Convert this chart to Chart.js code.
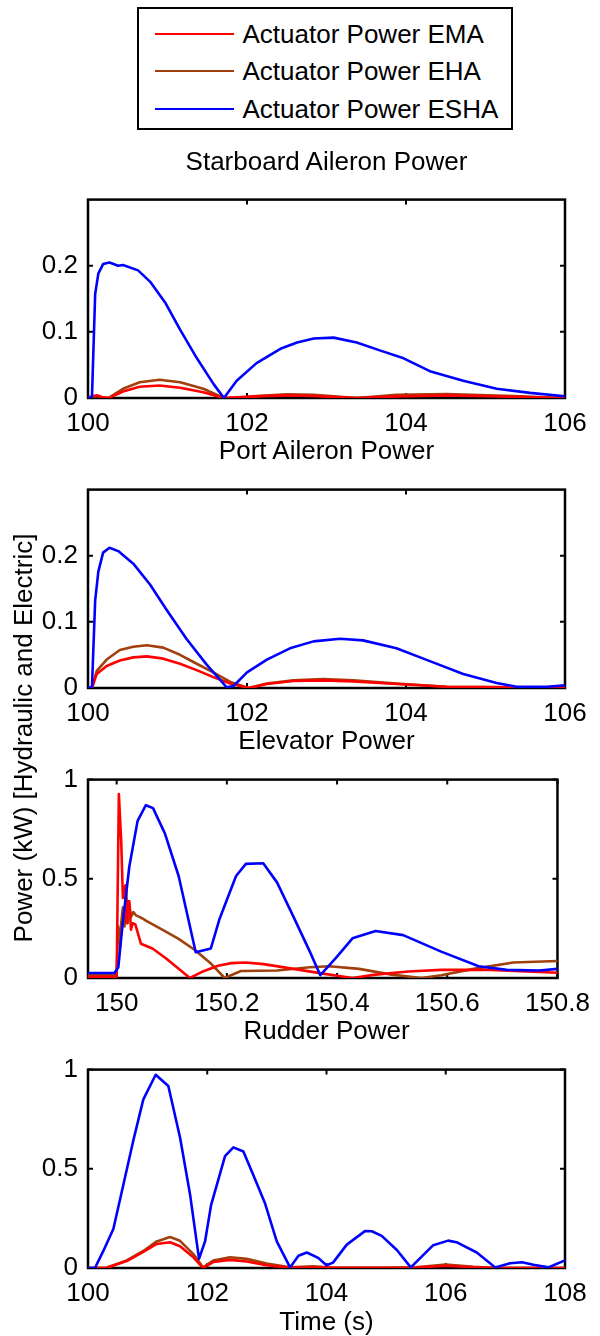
<!DOCTYPE html>
<html>
<head>
<meta charset="utf-8">
<title>Actuator Power</title>
<script src="https://cdn.jsdelivr.net/npm/chart.js@4.4.1/dist/chart.umd.min.js"></script>
<style>
  html, body { margin: 0; padding: 0; background: #fff; }
  body { width: 600px; height: 1336px; position: relative; overflow: hidden;
         font-family: "Liberation Sans", Arial, Helvetica, sans-serif; color: #000; }
  canvas { position: absolute; left: 0; z-index: 1; }
  .txt { position: absolute; font-size: 26px; line-height: 26px; white-space: nowrap; z-index: 2; }
  .title { left: 26.5px; width: 600px; text-align: center; }
  #legend { position: absolute; left: 137px; top: 7px; width: 376px; height: 123px;
            box-sizing: border-box; border: 2.5px solid #000; background: #fff; z-index: 3; }
  .row { position: absolute; left: 0; height: 26px; }
  .row .swatch { position: absolute; left: 15.5px; top: 11.5px; width: 79px; height: 2.5px; }
  .row .lab { position: absolute; left: 103.5px; top: 0; font-size: 26px; line-height: 26px; white-space: nowrap; }
  #ylabel { left: -227px; top: 725px; width: 500px; text-align: center; transform: rotate(-90deg); }
</style>
</head>
<body>

<div id="legend">
  <div class="row" style="top:12px"><div class="swatch" style="background:#ff0000"></div><div class="lab">Actuator Power EMA</div></div>
  <div class="row" style="top:49px"><div class="swatch" style="background:#a0410d"></div><div class="lab">Actuator Power EHA</div></div>
  <div class="row" style="top:87px"><div class="swatch" style="background:#0000ff"></div><div class="lab">Actuator Power ESHA</div></div>
</div>

<div class="txt title" style="top:148px">Starboard Aileron Power</div>
<div class="txt title" style="top:437px">Port Aileron Power</div>
<div class="txt title" style="top:727px">Elevator Power</div>
<div class="txt title" style="top:1017px">Rudder Power</div>
<div class="txt title" style="top:1308px">Time (s)</div>
<div class="txt" id="ylabel">Power (kW) [Hydraulic and Electric]</div>

<script>
// ---- Starboard aileron (time in s, power in kW) ----
const sbEshaT = [100, 100.05, 100.09, 100.13, 100.19, 100.27, 100.38, 100.44, 100.63, 100.78, 100.97, 101.16, 101.37, 101.58, 101.71, 101.87, 102.12, 102.42, 102.63, 102.84, 103.09, 103.38, 103.67, 103.97, 104.3, 104.72, 105.14, 105.56, 106];
const sbEshaP = [0, 0.002, 0.157, 0.188, 0.2025, 0.205, 0.2, 0.201, 0.193, 0.176, 0.1445, 0.103, 0.06, 0.021, 0, 0.026, 0.0527, 0.0744, 0.084, 0.0899, 0.0913, 0.084, 0.072, 0.06, 0.0406, 0.026, 0.014, 0.0077, 0.0027];
const sbTime   = [100, 100.06, 100.12, 100.18, 100.26, 100.35, 100.44, 100.65, 100.9, 101.16, 101.45, 101.71, 101.87, 102.12, 102.5, 102.84, 103.38, 103.88, 104.51, 105.35, 106];
const sbEhaP   = [0, 0.002, 0.003, 0.001, 0, 0.007, 0.014, 0.0237, 0.0275, 0.0237, 0.014, 0, 0, 0.003, 0.0056, 0.0048, 0, 0.0048, 0.006, 0.003, 0];
const sbEmaP   = [0, 0.003, 0.004, 0.001, 0, 0.005, 0.0097, 0.017, 0.019, 0.0155, 0.0087, 0, 0.001, 0.0024, 0.004, 0.003, 0, 0.0024, 0.004, 0.002, 0];

// ---- Port aileron ----
const paEshaT = [100, 100.05, 100.09, 100.13, 100.19, 100.27, 100.38, 100.57, 100.78, 100.99, 101.24, 101.49, 101.745, 101.83, 102.0, 102.25, 102.54, 102.835, 103.17, 103.46, 103.88, 104.3, 104.72, 105.14, 105.39, 105.77, 106];
const paEshaP = [0, 0.002, 0.132, 0.176, 0.2047, 0.212, 0.207, 0.188, 0.1565, 0.118, 0.074, 0.0357, 0.001, 0.003, 0.0237, 0.043, 0.06, 0.0705, 0.0744, 0.072, 0.06, 0.0406, 0.0213, 0.0077, 0.002, 0.002, 0.004];
const paTime   = [100, 100.05, 100.11, 100.235, 100.4, 100.57, 100.74, 100.947, 101.157, 101.367, 101.576, 101.79, 102.02, 102.25, 102.58, 102.96, 103.34, 103.88, 104.51, 105.35, 106];
const paEhaP   = [0, 0, 0.026, 0.043, 0.0575, 0.0623, 0.0647, 0.061, 0.0502, 0.0367, 0.0237, 0.0092, 0, 0.0068, 0.0116, 0.0135, 0.0116, 0.0068, 0.002, 0.001, 0.001];
const paEmaP   = [0, 0, 0.0213, 0.0333, 0.0415, 0.0463, 0.0478, 0.0444, 0.0367, 0.027, 0.0164, 0.0068, 0, 0.006, 0.0105, 0.0116, 0.010, 0.006, 0.002, 0.001, 0.001];

// ---- Elevator ----
const elEshaT = [149.948, 149.996, 150.003, 150.011, 150.023, 150.038, 150.053, 150.066, 150.0875, 150.1125, 150.1435, 150.171, 150.187, 150.2167, 150.2345, 150.266, 150.291, 150.321, 150.3506, 150.3696, 150.398, 150.428, 150.47, 150.52, 150.589, 150.657, 150.708, 150.767, 150.8];
const elEshaP = [0.025, 0.025, 0.054, 0.276, 0.562, 0.792, 0.871, 0.856, 0.729, 0.514, 0.13, 0.149, 0.3, 0.514, 0.575, 0.578, 0.482, 0.308, 0.133, 0.014, 0.101, 0.2, 0.237, 0.216, 0.133, 0.059, 0.041, 0.038, 0.046];
const elEhaT  = [149.948, 150.0, 150.0027, 150.0068, 150.0083, 150.0113, 150.0143, 150.017, 150.02, 150.023, 150.026, 150.0304, 150.035, 150.041, 150.047, 150.053, 150.0827, 150.1125, 150.142, 150.172, 150.196, 150.2256, 150.291, 150.3506, 150.386, 150.44, 150.499, 150.553, 150.589, 150.648, 150.72, 150.8];
const elEhaP  = [0.014, 0.014, 0.26, 0.165, 0.276, 0.356, 0.26, 0.467, 0.276, 0.371, 0.308, 0.332, 0.316, 0.308, 0.3, 0.289, 0.244, 0.197, 0.141, 0.07, 0, 0.035, 0.038, 0.054, 0.059, 0.046, 0.017, 0, 0.014, 0.046, 0.078, 0.086];
const elEmaT  = [149.948, 150.0, 150.004, 150.0083, 150.0113, 150.016, 150.018, 150.021, 150.023, 150.026, 150.029, 150.0339, 150.044, 150.065, 150.0887, 150.1125, 150.133, 150.154, 150.184, 150.208, 150.2345, 150.267, 150.321, 150.3745, 150.428, 150.47, 150.529, 150.589, 150.678, 150.8];
const elEmaP  = [0.006, 0.006, 0.927, 0.689, 0.403, 0.467, 0.276, 0.387, 0.387, 0.244, 0.276, 0.27, 0.173, 0.149, 0.101, 0.046, 0, 0.03, 0.062, 0.075, 0.078, 0.07, 0.046, 0.022, 0, 0.017, 0.033, 0.041, 0.041, 0.0267];

// ---- Rudder ----
const ruEshaT = [100, 100.117, 100.257, 100.425, 100.593, 100.76, 100.928, 101.135, 101.347, 101.543, 101.711, 101.862, 101.963, 102.064, 102.298, 102.438, 102.606, 102.774, 102.97, 103.166, 103.389, 103.53, 103.67, 103.86, 104.0, 104.11, 104.34, 104.645, 104.76, 104.926, 105.18, 105.414, 105.79, 106.04, 106.18, 106.52, 106.83, 107.08, 107.28, 107.47, 107.72, 108];
const ruEshaP = [0, 0, 0.086, 0.197, 0.42, 0.643, 0.85, 0.974, 0.917, 0.659, 0.372, 0.046, 0.134, 0.317, 0.564, 0.608, 0.587, 0.468, 0.325, 0.134, 0.003, 0.062, 0.078, 0.051, 0.014, 0.027, 0.118, 0.186, 0.185, 0.162, 0.091, 0.003, 0.115, 0.138, 0.13, 0.078, 0.003, 0.024, 0.029, 0.016, 0.003, 0.038];
const ruTime   = [100, 100.3, 100.65, 100.928, 101.152, 101.376, 101.543, 101.767, 101.93, 102.1, 102.38, 102.66, 102.997, 103.39, 103.78, 104.11, 105.0, 105.5, 106.0, 106.47, 106.86, 108];
const ruEhaP   = [0, 0, 0.038, 0.086, 0.134, 0.156, 0.137, 0.07, 0.003, 0.038, 0.054, 0.046, 0.022, 0.003, 0.008, 0.001, 0.001, 0.003, 0.0175, 0.006, 0, 0];
const ruEmaP   = [0, 0, 0.035, 0.081, 0.121, 0.13, 0.11, 0.054, 0, 0.03, 0.041, 0.033, 0.014, 0.001, 0.004, 0.001, 0.001, 0.002, 0.011, 0.004, 0, 0];

// ---- Axis ticks ----
const aileronXTicks  = [100, 102, 104, 106];
const elevatorXTicks = [150, 150.2, 150.4, 150.6, 150.8];
const rudderXTicks   = [100, 102, 104, 106, 108];
const aileronYTicks  = [0, 0.1, 0.2];
const surfaceYTicks  = [0, 0.5, 1];

const COLORS = { ema: '#ff0000', eha: '#a0410d', esha: '#0000ff' };
const FONT = '"Liberation Sans", Arial, Helvetica, sans-serif';

const PLOT_W_LEFT = 88, PLOT_RIGHT = 565, PLOT_H = 208, PAD_TOP = 16, XAXIS_H = 44;

function pts(t, p) { return t.map((v, i) => ({ x: v, y: p[i] })); }

// Closed axes box with inward tick marks on all four sides
const frame = {
  id: 'frame',
  beforeDatasetsDraw(chart) {
    const { ctx, chartArea: a, scales: { x, y } } = chart;
    ctx.save();
    ctx.strokeStyle = '#000';
    ctx.lineWidth = 2.5;
    ctx.strokeRect(a.left, a.top, a.right - a.left, a.bottom - a.top);
    ctx.beginPath();
    ctx.lineWidth = 2;
    x.ticks.forEach(t => {
      const px = x.getPixelForValue(t.value);
      ctx.moveTo(px, a.bottom); ctx.lineTo(px, a.bottom - 5);
      ctx.moveTo(px, a.top); ctx.lineTo(px, a.top + 5);
    });
    y.ticks.forEach(t => {
      const py = y.getPixelForValue(t.value);
      ctx.moveTo(a.left, py); ctx.lineTo(a.left + 5, py);
      ctx.moveTo(a.right, py); ctx.lineTo(a.right - 5, py);
    });
    ctx.stroke();
    ctx.restore();
  }
};

function panel(plotTop, xMin, xMax, xTicks, yMax, yTicks, ema, eha, esha) {
  const cv = document.createElement('canvas');
  const h = PAD_TOP + PLOT_H + XAXIS_H;
  cv.width = 600; cv.height = h;
  cv.style.top = (plotTop - PAD_TOP) + 'px';
  cv.style.width = '600px'; cv.style.height = h + 'px';
  document.body.appendChild(cv);

  const tickFont = { family: FONT, size: 26 };
  const line = (data, color, order) => ({
    data, borderColor: color, backgroundColor: color, borderWidth: 2.6,
    pointRadius: 0, tension: 0, fill: false, order,
    borderJoinStyle: 'round', borderCapStyle: 'round'
  });

  new Chart(cv, {
    type: 'line',
    data: {
      datasets: [
        line(ema, COLORS.ema, 1),
        line(eha, COLORS.eha, 2),
        line(esha, COLORS.esha, 0)
      ]
    },
    options: {
      responsive: false,
      animation: false,
      devicePixelRatio: 1,
      layout: { padding: { top: PAD_TOP, right: 600 - PLOT_RIGHT, left: 0, bottom: 0 } },
      plugins: { legend: { display: false }, tooltip: { enabled: false } },
      scales: {
        x: {
          type: 'linear', min: xMin, max: xMax,
          afterBuildTicks: s => { s.ticks = xTicks.map(v => ({ value: v })); },
          afterFit: s => { s.height = XAXIS_H; },
          grid: { display: false, drawTicks: false },
          border: { display: false },
          ticks: { font: tickFont, color: '#000', padding: 10, maxRotation: 0, autoSkip: false,
                   callback: v => String(v) }
        },
        y: {
          type: 'linear', min: 0, max: yMax,
          afterBuildTicks: s => { s.ticks = yTicks.map(v => ({ value: v })); },
          afterFit: s => { s.width = PLOT_W_LEFT; },
          grid: { display: false, drawTicks: false },
          border: { display: false },
          ticks: { font: tickFont, color: '#000', padding: 10, autoSkip: false,
                   callback: v => String(v) }
        }
      }
    },
    plugins: [frame]
  });
}

panel(190, 100, 106, aileronXTicks, 0.3, aileronYTicks,
      pts(sbTime, sbEmaP), pts(sbTime, sbEhaP), pts(sbEshaT, sbEshaP));
panel(480, 100, 106, aileronXTicks, 0.3, aileronYTicks,
      pts(paTime, paEmaP), pts(paTime, paEhaP), pts(paEshaT, paEshaP));
panel(770, 149.948, 150.8, elevatorXTicks, 1, surfaceYTicks,
      pts(elEmaT, elEmaP), pts(elEhaT, elEhaP), pts(elEshaT, elEshaP));
panel(1060, 100, 108, rudderXTicks, 1, surfaceYTicks,
      pts(ruTime, ruEmaP), pts(ruTime, ruEhaP), pts(ruEshaT, ruEshaP));
</script>
</body>
</html>
